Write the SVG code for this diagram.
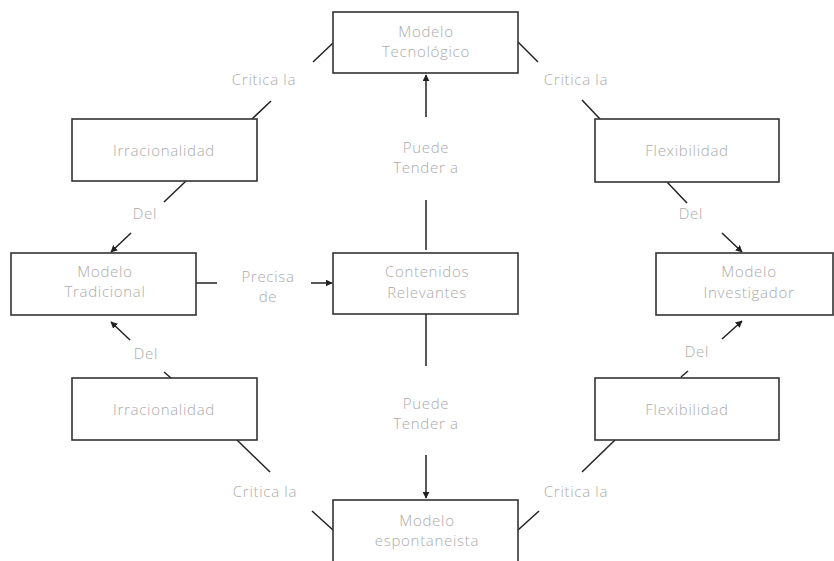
<svg xmlns="http://www.w3.org/2000/svg" width="834" height="561" viewBox="0 0 834 561">
<defs>
<marker id="ah" viewBox="0 0 10 10" refX="9" refY="5" markerWidth="7" markerHeight="7" markerUnits="userSpaceOnUse" orient="auto"><path d="M0,0 L10,5 L0,10 z" fill="#222"/></marker>
<style>
.box{fill:#fff;stroke:#333;stroke-width:1.6}
.t{font-family:"Open Sans","Liberation Sans",sans-serif;font-weight:300;font-size:15px;fill:#ababab;text-anchor:middle;letter-spacing:0.7px}
.c{stroke:#222;stroke-width:1.5;fill:none}
.a{marker-end:url(#ah)}
</style>
</defs>
<rect width="834" height="561" fill="#fff"/>
<g id="connectors">
<path class="c" d="M426,250 V200"/>
<path class="c a" d="M426,117 V75"/>
<path class="c" d="M426,314 V366"/>
<path class="c a" d="M426,455 V498"/>
<path class="c" d="M196,283 H217"/>
<path class="c a" d="M311,283 H332"/>
<path class="c" d="M252,119 L271,101"/>
<path class="c" d="M313,62 L333,43"/>
<path class="c" d="M518,42 L538,62"/>
<path class="c" d="M582,100 L600,119"/>
<path class="c" d="M186,181 L164,202"/>
<path class="c a" d="M131,233 L111,252"/>
<path class="c" d="M667,182 L687,203"/>
<path class="c a" d="M722,233 L742,252"/>
<path class="c a" d="M130,340 L111,322"/>
<path class="c" d="M164,372 L171,378"/>
<path class="c" d="M237,440 L270,472"/>
<path class="c" d="M312,511 L333,530"/>
<path class="c a" d="M722,339 L742,321"/>
<path class="c" d="M681,377 L688,371"/>
<path class="c" d="M518,530 L539,511"/>
<path class="c" d="M582,472 L615,440"/>
</g>
<g id="label-critica-tl"><text class="t" x="264" y="85">Critica la</text></g>
<g id="label-critica-tr"><text class="t" x="576" y="85">Critica la</text></g>
<g id="label-critica-bl"><text class="t" x="265" y="497">Critica la</text></g>
<g id="label-critica-br"><text class="t" x="576" y="497">Critica la</text></g>
<g id="label-del-tl"><text class="t" x="145" y="219">Del</text></g>
<g id="label-del-tr"><text class="t" x="691" y="219">Del</text></g>
<g id="label-del-bl"><text class="t" x="146" y="359">Del</text></g>
<g id="label-del-br"><text class="t" x="697" y="357">Del</text></g>
<g id="label-precisa"><text class="t" x="268" y="282">Precisa</text><text class="t" x="268" y="302">de</text></g>
<g id="label-puede-top"><text class="t" x="426" y="153">Puede</text><text class="t" x="426" y="173">Tender a</text></g>
<g id="label-puede-bottom"><text class="t" x="426" y="409">Puede</text><text class="t" x="426" y="429">Tender a</text></g>
<g id="n-tecnologico"><rect class="box" x="333" y="12" width="185" height="61"/><text class="t" x="426" y="37">Modelo</text><text class="t" x="426" y="57">Tecnológico</text></g>
<g id="n-irracionalidad-top"><rect class="box" x="72" y="119" width="185" height="62"/><text class="t" x="164" y="156">Irracionalidad</text></g>
<g id="n-flexibilidad-top"><rect class="box" x="595" y="119" width="184" height="63"/><text class="t" x="687" y="156">Flexibilidad</text></g>
<g id="n-tradicional"><rect class="box" x="11" y="253" width="185" height="62"/><text class="t" x="105" y="277">Modelo</text><text class="t" x="105" y="297">Tradicional</text></g>
<g id="n-contenidos"><rect class="box" x="333" y="253" width="185" height="61"/><text class="t" x="427" y="277">Contenidos</text><text class="t" x="427" y="298">Relevantes</text></g>
<g id="n-investigador"><rect class="box" x="656" y="253" width="177" height="62"/><text class="t" x="749" y="277">Modelo</text><text class="t" x="749" y="298">Investigador</text></g>
<g id="n-irracionalidad-bottom"><rect class="box" x="72" y="378" width="185" height="62"/><text class="t" x="164" y="415">Irracionalidad</text></g>
<g id="n-flexibilidad-bottom"><rect class="box" x="595" y="378" width="184" height="62"/><text class="t" x="687" y="415">Flexibilidad</text></g>
<g id="n-espontaneista"><rect class="box" x="333" y="500" width="185" height="70"/><text class="t" x="427" y="526">Modelo</text><text class="t" x="427" y="546">espontaneista</text></g>
</svg>
